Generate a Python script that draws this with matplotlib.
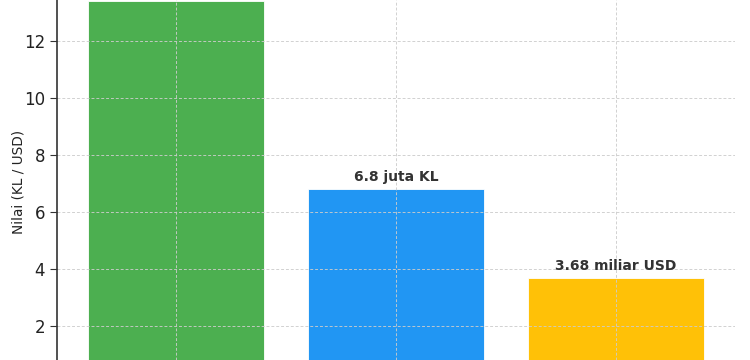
import matplotlib
matplotlib.use("Agg")
import matplotlib.pyplot as plt

categories = ["Kategori A", "Kategori B", "Kategori C"]
values = [13.4, 6.8, 3.68]
bar_labels = ["", "6.8 juta KL", "3.68 miliar USD"]
colors = ["#4CAF50", "#2196F3", "#FFC107"]
yticks = [2, 4, 6, 8, 10, 12]

fig = plt.figure(figsize=(7.5, 3.6), dpi=100)
ax = fig.add_axes([57/750, 0, 678/750, 1])

bars = ax.bar(categories, values, width=0.8, color=colors, edgecolor="white", linewidth=0.6)
for b, lab in zip(bars, bar_labels):
    if lab:
        ax.annotate(lab, (b.get_x() + b.get_width()/2, b.get_height()),
                    xytext=(0, 4), textcoords="offset points",
                    ha="center", va="bottom", fontsize=10, fontweight="bold", color="#333333")

ax.set_xlim(-0.54, 2.54)
ax.set_ylim(0.807, 13.44)
ax.set_yticks(yticks)
ax.tick_params(axis="y", labelsize=12, length=5, color="#333333", labelcolor="#222222")
ax.tick_params(axis="x", labelbottom=False, length=0)
ax.set_ylabel("Nilai (KL / USD)", fontsize=9.8, color="#222222")
ax.yaxis.set_label_coords(-0.046, 0.495)
ax.grid(True, linestyle=(0, (3, 2)), color="#cccccc", linewidth=0.7, alpha=0.9)
for s in ["top", "right", "bottom"]:
    ax.spines[s].set_visible(False)
ax.spines["left"].set_color("#333333")
ax.spines["left"].set_linewidth(1.2)

fig.savefig("out.png", dpi=100)
